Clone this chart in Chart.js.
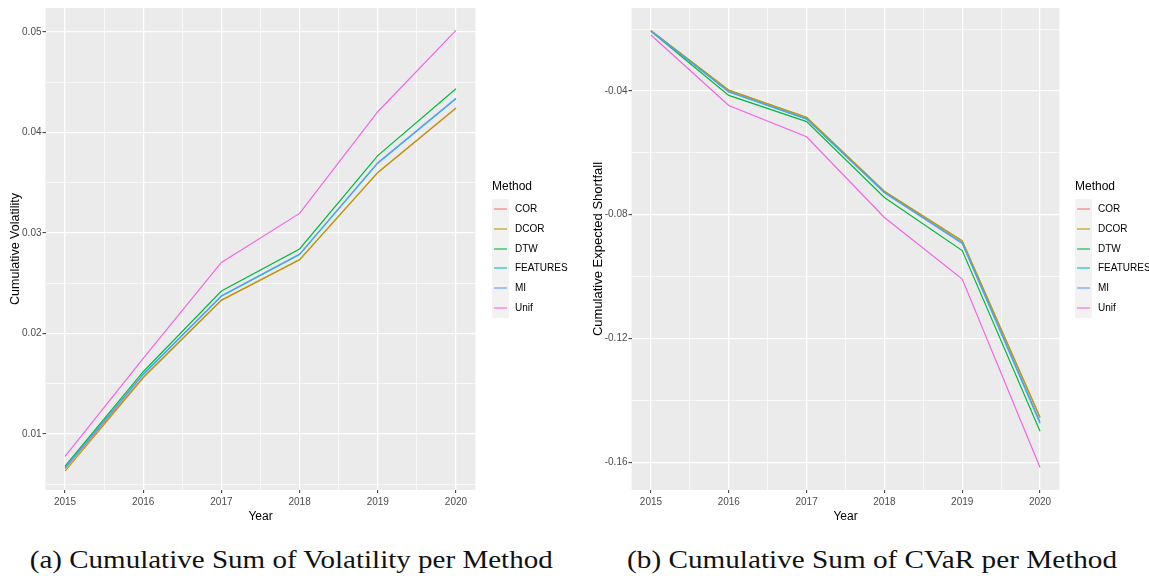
<!DOCTYPE html>
<html><head><meta charset="utf-8">
<script src="https://cdn.jsdelivr.net/npm/chart.js@4/dist/chart.umd.min.js"></script>
<style>
html,body{margin:0;padding:0;background:#fff;}
body{width:1149px;height:576px;overflow:hidden;position:relative;font-family:'Liberation Sans',Arial,sans-serif;}
canvas{position:absolute;top:0;}
#c1{left:0;} #c2{left:580px;}
.lg{position:absolute;}
.lg .t{position:absolute;left:0;top:0;font-size:12px;color:#000;line-height:14px;white-space:nowrap;}
.lg .box{position:absolute;left:0;top:20px;width:17px;height:119px;background:#F2F2F2;}
.lg .row{position:absolute;left:0;height:20px;}
.lg .ln{position:absolute;left:2px;top:9px;width:13px;height:2px;opacity:0.55;}
.lg .lab{position:absolute;left:23px;top:3px;font-size:10px;color:#000;white-space:nowrap;line-height:14px;}
.cap{position:absolute;top:545px;font-family:'Liberation Serif',serif;font-size:26px;color:#111;white-space:nowrap;line-height:30px;transform-origin:center top;}
</style></head>
<body>
<canvas id="c1" width="580" height="530"></canvas>
<canvas id="c2" width="569" height="530"></canvas>
<div class="lg" id="lg1" style="left:492px;top:179px;"></div>
<div class="lg" id="lg2" style="left:1075px;top:179px;"></div>
<div class="cap" id="capA" data-cx="291" data-w="523">(a) Cumulative Sum of Volatility per Method</div>
<div class="cap" id="capB" data-cx="872" data-w="490">(b) Cumulative Sum of CVaR per Method</div>
<script>
const years = [2015, 2016, 2017, 2018, 2019, 2020];
const methods = ['COR', 'DCOR', 'DTW', 'FEATURES', 'MI', 'Unif'];
const colors = ['#F8766D', '#B79F00', '#00BA38', '#00BFC4', '#619CFF', '#F564E3'];

// Panel (a): cumulative volatility
const volCOR      = [0.00655, 0.01565, 0.02333, 0.02733, 0.03600, 0.04242];
const volDCOR     = [0.00630, 0.01558, 0.02330, 0.02735, 0.03603, 0.04245];
const volDTW      = [0.00680, 0.01620, 0.02423, 0.02841, 0.03770, 0.04435];
const volFEATURES = [0.00668, 0.01595, 0.02370, 0.02785, 0.03695, 0.04335];
const volMI       = [0.00662, 0.01590, 0.02376, 0.02791, 0.03700, 0.04341];
const volUnif     = [0.00778, 0.01752, 0.02707, 0.03195, 0.04207, 0.05017];

// Panel (b): cumulative expected shortfall (CVaR)
const cvCOR      = [-0.0205, -0.0398, -0.0486, -0.0725, -0.0886, -0.1457];
const cvDCOR     = [-0.0204, -0.0397, -0.0485, -0.0724, -0.0884, -0.1454];
const cvDTW      = [-0.0207, -0.0414, -0.0499, -0.0744, -0.0916, -0.1500];
const cvFEATURES = [-0.0206, -0.0402, -0.0490, -0.0728, -0.0891, -0.1470];
const cvMI       = [-0.0206, -0.0403, -0.0491, -0.0729, -0.0893, -0.1475];
const cvUnif     = [-0.0219, -0.0447, -0.0548, -0.0809, -0.1008, -0.1617];

// Tick labels / grid breaks
const yearLabels = ['2015', '2016', '2017', '2018', '2019', '2020'];
const yearMinor  = [2015.5, 2016.5, 2017.5, 2018.5, 2019.5];
const volTicks   = [0.01, 0.02, 0.03, 0.04, 0.05];
const volLabels  = ['0.01', '0.02', '0.03', '0.04', '0.05'];
const volMinor   = [0.005, 0.015, 0.025, 0.035, 0.045];
const cvTicks    = [-0.16, -0.12, -0.08, -0.04];
const cvLabels   = ['-0.16', '-0.12', '-0.08', '-0.04'];
const cvMinor    = [-0.14, -0.10, -0.06, -0.02];

const volSeries = [volCOR, volDCOR, volDTW, volFEATURES, volMI, volUnif];
const cvSeries  = [cvCOR, cvDCOR, cvDTW, cvFEATURES, cvMI, cvUnif];

const panelBg = {
  id: 'panelBg',
  beforeDraw(chart) {
    const a = chart.chartArea, ctx = chart.ctx;
    ctx.save(); ctx.fillStyle = '#EBEBEB';
    ctx.fillRect(a.left, a.top, a.right - a.left, a.bottom - a.top);
    ctx.restore();
  }
};

function buildTicks(majors, labels, minors) {
  const arr = majors.map((v, i) => ({ value: v, isMajor: true, lbl: labels[i] }))
    .concat(minors.map(v => ({ value: v, isMajor: false, lbl: '' })));
  arr.sort((a, b) => a.value - b.value);
  return arr;
}

const tickFont = { family: "'Liberation Sans',Arial,sans-serif", size: 10 };

function makeChart(id, series, yMin, yMax, yMaj, yLab, yMin2, yTitle, yTitleSize, axisW, padR, titlePad) {
  const datasets = methods.map((m, i) => ({
    label: m,
    data: years.map((y, j) => ({ x: y, y: series[i][j] })),
    borderColor: colors[i],
    backgroundColor: colors[i],
    borderWidth: 1.2,
    pointRadius: 0,
    tension: 0,
    fill: false,
    order: methods.length - i
  }));
  const xT = buildTicks(years, yearLabels, yearMinor);
  const yT = buildTicks(yMaj, yLab, yMin2);
  const gridW = c => (c.tick && c.tick.isMajor) ? 1.25 : 0.65;
  const tickC = c => (c.tick && c.tick.isMajor) ? '#333333' : 'rgba(0,0,0,0)';
  return new Chart(document.getElementById(id), {
    type: 'line',
    data: { datasets },
    plugins: [panelBg],
    options: {
      responsive: false,
      animation: false,
      layout: { padding: { left: 0, right: padR, top: 8, bottom: 0 } },
      plugins: { legend: { display: false }, tooltip: { enabled: false } },
      scales: {
        x: {
          type: 'linear', min: 2014.75, max: 2020.25,
          afterBuildTicks: s => { s.ticks = xT.map(t => Object.assign({}, t)); },
          afterFit: s => { s.height = 40; },
          ticks: {
            autoSkip: false, maxRotation: 0, minRotation: 0, padding: 3,
            color: '#4D4D4D', font: tickFont,
            callback: (v, i, ts) => ts[i].lbl
          },
          grid: { color: '#FFFFFF', lineWidth: gridW, tickColor: tickC, tickLength: 3, tickWidth: 1, drawTicks: true },
          border: { display: false },
          title: { display: true, text: 'Year', color: '#000', font: { family: tickFont.family, size: 12 }, padding: { top: 0, bottom: 6.5 } }
        },
        y: {
          type: 'linear', min: yMin, max: yMax,
          afterBuildTicks: s => { s.ticks = yT.map(t => Object.assign({}, t)); },
          afterFit: s => { s.width = axisW; },
          ticks: {
            autoSkip: false, padding: 1, color: '#4D4D4D', font: tickFont,
            callback: (v, i, ts) => ts[i].lbl
          },
          grid: { color: '#FFFFFF', lineWidth: gridW, tickColor: tickC, tickLength: 3, tickWidth: 1, drawTicks: true },
          border: { display: false },
          title: { display: true, text: yTitle, color: '#000', font: { family: tickFont.family, size: yTitleSize }, padding: { top: titlePad, bottom: 0 } }
        }
      }
    }
  });
}

makeChart('c1', volSeries, 0.00443, 0.05239, volTicks, volLabels, volMinor, 'Cumulative Volatility', 12.5, 45.5, 104.5, 8);
makeChart('c2', cvSeries, -0.1690, -0.01316, cvTicks, cvLabels, cvMinor, 'Cumulative Expected Shortfall', 13, 51.5, 89.5, 10.5);

function buildLegend(id) {
  const el = document.getElementById(id);
  let html = '<div class="t">Method</div><div class="box"></div>';
  methods.forEach((m, i) => {
    html += '<div class="row" style="top:' + (20 + i * 19.8) + 'px"><div class="ln" style="background:' + colors[i] + '"></div><div class="lab">' + m + '</div></div>';
  });
  el.innerHTML = html;
}
buildLegend('lg1');
buildLegend('lg2');

document.querySelectorAll('.cap').forEach(c => {
  const w = c.getBoundingClientRect().width;
  const target = +c.dataset.w, cx = +c.dataset.cx;
  const s = target / w;
  c.style.left = (cx - w / 2) + 'px';
  c.style.transform = 'scaleX(' + s + ')';
});
</script>
</body></html>
